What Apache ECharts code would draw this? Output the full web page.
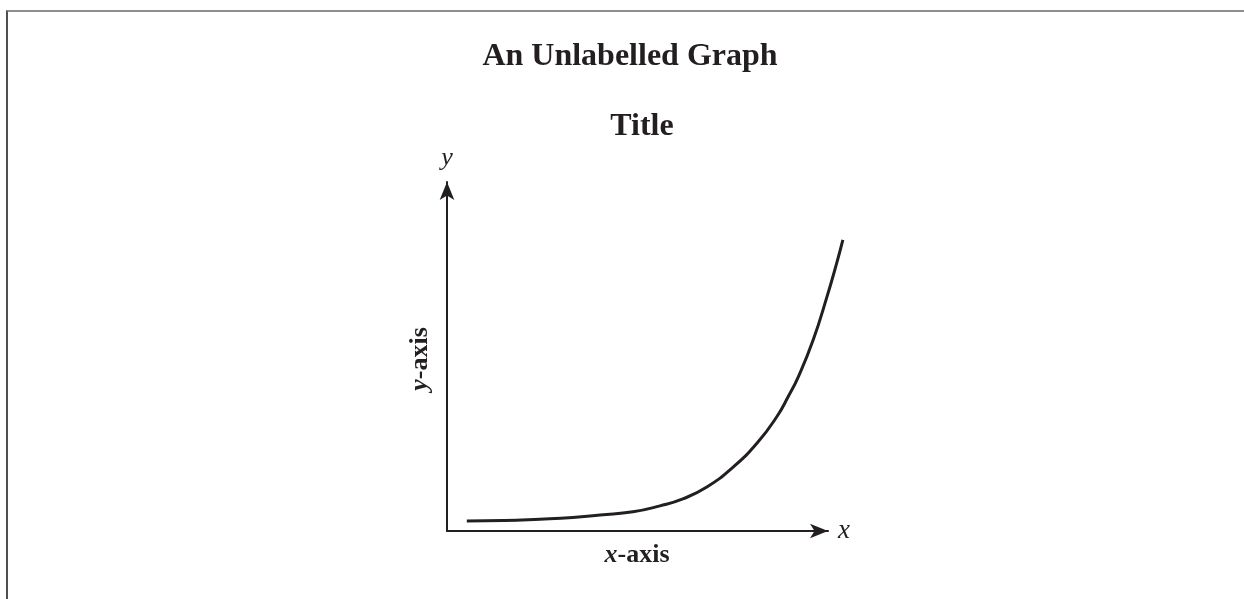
<!DOCTYPE html>
<html>
<head>
<meta charset="utf-8">
<script src="https://cdn.jsdelivr.net/npm/echarts@6/dist/echarts.min.js"></script>
<style>
  html, body { margin: 0; padding: 0; background: #ffffff; }
  #chart { position: absolute; left: 0; top: 0; width: 1244px; height: 599px; }
  #frame { position: absolute; left: 6px; top: 10px; right: 0; bottom: 0;
           border-top: 2px solid #8e8e8e; border-left: 2px solid #4f4f4f; pointer-events: none; }
</style>
</head>
<body>
<div id="chart"></div>
<div id="frame"></div>
<script>
// ---- data ----
const mainTitle = "An Unlabelled Graph";
const subTitle = "Title";
const xAxisLabel = "-axis";
const yAxisLabel = "-axis";
const xVarName = "x";
const yVarName = "y";
const curveX = [0.52, 1.5, 2.44, 3.3, 4.02, 4.88, 5.59, 6.19, 6.82, 7.51, 8.14, 8.66, 8.96, 9.23, 9.61, 9.97, 10.23, 10.39];
const curveY = [0.29, 0.30, 0.34, 0.39, 0.46, 0.55, 0.72, 0.92, 1.26, 1.83, 2.52, 3.28, 3.86, 4.44, 5.47, 6.70, 7.68, 8.34];
const xRange = [0, 10];      // drawn axis
const xRangeWide = [0, 11];  // same scale, room for the curve past the arrow
const yRange = [0, 10];

const ink = '#231f20';
const serif = '"Liberation Serif", "Times New Roman", serif';

const hiddenAxis = { axisLine: { show: false }, axisTick: { show: false }, axisLabel: { show: false }, splitLine: { show: false } };

const chart = echarts.init(document.getElementById('chart'), null, { renderer: 'canvas' });
chart.setOption({
  backgroundColor: '#ffffff',
  animation: false,
  grid: [
    { left: 447, right: 416, top: 182, bottom: 68, containLabel: false },
    { left: 447, right: 377.9, top: 182, bottom: 68, containLabel: false }
  ],
  xAxis: [{
    type: 'value', gridIndex: 0, min: xRange[0], max: xRange[1],
    name: xVarName, nameLocation: 'end', nameGap: 10,
    nameTextStyle: { fontFamily: serif, fontStyle: 'italic', fontSize: 27, color: ink, padding: [0, 0, 6, 0] },
    axisLine: { show: true, symbol: ['none', 'arrow'], symbolSize: [11, 18], lineStyle: { color: ink, width: 2 } },
    axisTick: { show: false }, axisLabel: { show: false }, splitLine: { show: false }
  }, Object.assign({ type: 'value', gridIndex: 1, min: xRangeWide[0], max: xRangeWide[1] }, hiddenAxis)],
  yAxis: [{
    type: 'value', gridIndex: 0, min: yRange[0], max: yRange[1],
    name: yVarName, nameLocation: 'end', nameGap: 11,
    nameTextStyle: { fontFamily: serif, fontStyle: 'italic', fontSize: 26, color: ink, align: 'center' },
    axisLine: { show: true, symbol: ['none', 'arrow'], symbolSize: [11, 18], lineStyle: { color: ink, width: 2 } },
    axisTick: { show: false }, axisLabel: { show: false }, splitLine: { show: false }
  }, Object.assign({ type: 'value', gridIndex: 1, min: yRange[0], max: yRange[1] }, hiddenAxis)],
  graphic: [
    { type: 'text', x: 630, y: 57, style: { text: mainTitle, font: 'bold 32px ' + serif, fill: ink, align: 'center', verticalAlign: 'middle' } },
    { type: 'text', x: 642, y: 127, style: { text: subTitle, font: 'bold 32px ' + serif, fill: ink, align: 'center', verticalAlign: 'middle' } },
    { type: 'text', x: 637, y: 555, style: {
        text: '{i|' + xVarName + '}{b|' + xAxisLabel + '}', fill: ink, align: 'center', verticalAlign: 'middle',
        rich: { i: { font: 'italic bold 26px ' + serif, fill: ink }, b: { font: 'bold 26px ' + serif, fill: ink } } } },
    { type: 'text', x: 420, y: 359, rotation: Math.PI / 2, style: {
        text: '{i|' + yVarName + '}{b|' + yAxisLabel + '}', fill: ink, align: 'center', verticalAlign: 'middle',
        rich: { i: { font: 'italic bold 26px ' + serif, fill: ink }, b: { font: 'bold 26px ' + serif, fill: ink } } } }
  ],
  series: [{
    type: 'line',
    xAxisIndex: 1, yAxisIndex: 1,
    data: curveX.map((x, i) => [x, curveY[i]]),
    smooth: 0.5,
    showSymbol: false,
    lineStyle: { color: ink, width: 3 },
    silent: true
  }]
});
</script>
</body>
</html>
